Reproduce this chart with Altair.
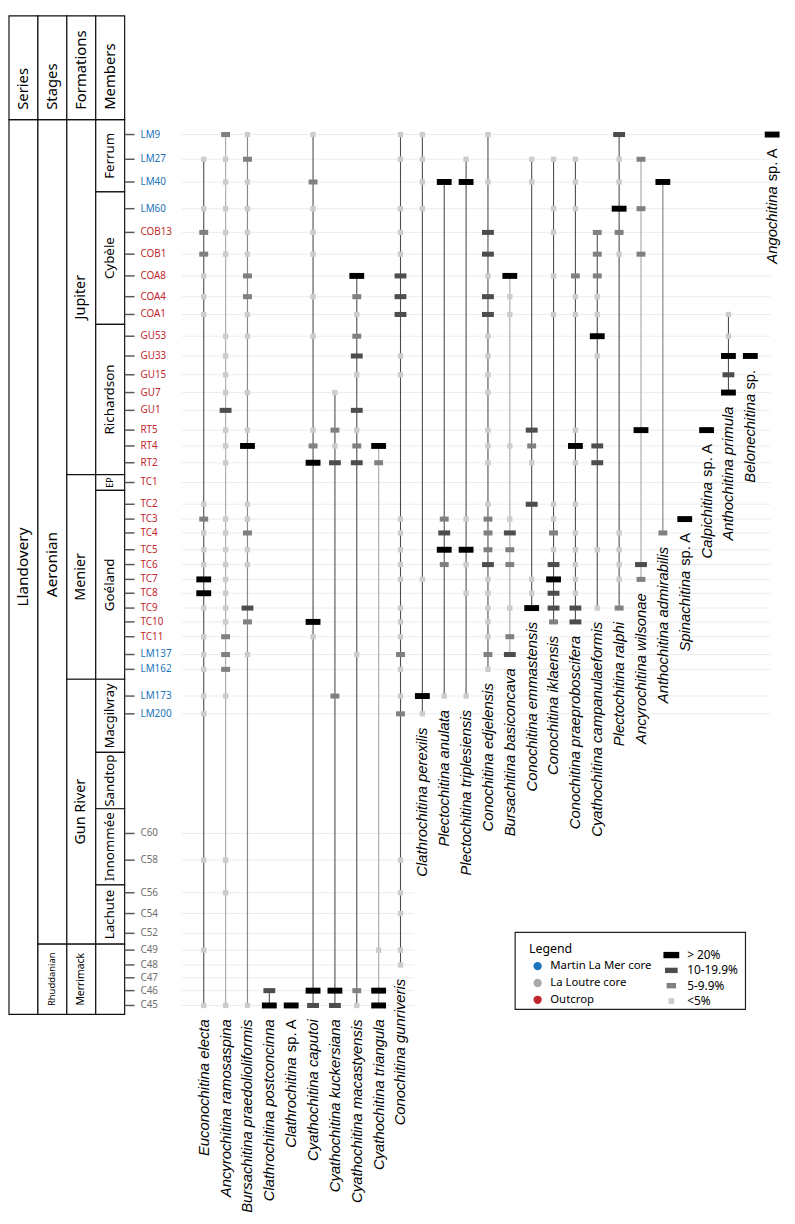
import altair as alt
import pandas as pd

# ---------------- samples (relative stratigraphic level, bottom = 0) ----------------
samples = ["LM9", "LM27", "LM40", "LM60", "COB13", "COB1", "COA8", "COA4", "COA1",
           "GU53", "GU33", "GU15", "GU7", "GU1", "RT5", "RT4", "RT2", "TC1",
           "TC2", "TC3", "TC4", "TC5", "TC6", "TC7", "TC8", "TC9", "TC10", "TC11",
           "LM137", "LM162", "LM173", "LM200",
           "C60", "C58", "C56", "C54", "C52", "C49", "C48", "C47", "C46", "C45"]
sample_level = [890, 865, 842, 815, 791, 769, 747, 726, 708,
                686, 666, 647, 629, 611, 591, 575, 558, 538,
                516, 501, 487, 470, 455, 440, 426, 411, 397, 382,
                364, 349, 322, 304,
                183, 156, 123, 102, 82, 65, 50, 37, 24, 9]
sample_source = (["Martin La Mer core"] * 4 + ["Outcrop"] * 24 +
                 ["Martin La Mer core"] * 4 + ["La Loutre core"] * 10)
sources = ["Martin La Mer core", "La Loutre core", "Outcrop"]

# ---------------- species and occurrences ----------------
species = ["Euconochitina electa", "Ancyrochitina ramosaspina", "Bursachitina praedolioliformis",
           "Clathrochitina postconcinna", "Clathrochitina sp. A", "Cyathochitina caputoi",
           "Cyathochitina kuckersiana", "Cyathochitina macastyensis", "Cyathochitina triangula",
           "Conochitina gunriveris", "Clathrochitina perexilis", "Plectochitina anulata",
           "Plectochitina triplesiensis", "Conochitina edjelensis", "Bursachitina basiconcava",
           "Conochitina emmastensis", "Conochitina iklaensis", "Conochitina praeproboscifera",
           "Cyathochitina campanulaeformis", "Plectochitina ralphi", "Ancyrochitina wilsonae",
           "Anthochitina admirabilis", "Spinachitina sp. A", "Calpichitina sp. A",
           "Anthochitina primula", "Belonechitina sp.", "Angochitina sp. A"]
species_tone = ["dark", "light", "mid", "dark", "dark", "dark", "dark", "dark", "light",
                "dark", "dark", "dark", "dark", "dark", "light", "dark", "dark", "dark",
                "dark", "dark", "light", "mid", "dark", "dark", "dark", "dark", "dark"]
# B: > 20%, D: 10-19.9%, M: 5-9.9%, L: <5%
species_records = [
    "LM27 L,LM60 L,COB13 M,COB1 M,COA8 L,COA4 L,COA1 L,TC2 L,TC3 M,TC4 L,TC5 L,TC6 L,TC7 B,TC8 B,TC9 L,TC11 L,LM137 L,LM162 L,LM173 L,LM200 L,C58 L,C49 L,C45 L",
    "LM9 M,LM27 L,LM40 L,LM60 L,COB13 L,COB1 L,GU53 L,GU33 L,GU15 L,GU7 L,GU1 D,RT5 L,RT4 L,RT2 L,TC3 L,TC4 L,TC5 L,TC6 L,TC7 L,TC8 L,TC9 L,TC10 L,TC11 M,LM137 M,LM162 M,LM173 L,C58 L,C56 L,C45 L",
    "LM9 L,LM27 M,LM40 L,LM60 L,COB13 L,COB1 L,COA8 M,COA4 M,COA1 L,GU53 L,GU7 L,RT5 L,RT4 B,TC2 L,TC3 L,TC4 M,TC5 L,TC6 L,TC9 D,TC10 M,LM137 L,C45 L",
    "C46 D,C45 B",
    "C45 B",
    "LM9 L,LM40 M,LM60 L,COB13 L,COB1 L,COA4 L,GU53 L,RT5 L,RT4 M,RT2 B,TC10 B,TC11 L,C46 B,C45 D",
    "GU7 L,RT5 M,RT4 L,RT2 D,LM173 M,C46 B,C45 D",
    "COA8 B,COA4 M,COA1 L,GU53 M,GU33 D,GU15 L,GU1 D,RT5 L,RT4 M,RT2 D,LM137 L,C46 M,C45 L",
    "RT4 B,RT2 M,C49 L,C46 B,C45 B",
    "LM9 L,LM27 L,LM60 L,COB13 L,COB1 L,COA8 D,COA4 D,COA1 D,GU33 L,GU15 L,TC3 L,TC4 L,TC5 L,TC6 L,TC7 L,TC9 L,TC10 L,TC11 L,LM137 M,LM162 L,LM173 L,LM200 M,C58 L,C56 L,C54 L,C49 L,C48 L",
    "LM9 L,LM27 L,LM40 L,LM60 L,TC7 L,LM173 B,LM200 L",
    "LM40 B,TC3 M,TC4 D,TC5 B,TC6 M,LM173 L",
    "LM27 L,LM40 B,TC3 L,TC5 B,TC6 L,TC8 L,LM173 L",
    "LM9 L,LM40 L,COB13 D,COB1 D,COA8 L,COA4 D,COA1 D,GU53 L,GU33 L,GU15 L,GU7 L,RT5 L,RT4 L,RT2 L,TC2 L,TC3 M,TC4 M,TC5 M,TC6 D,TC7 L,TC8 L,TC9 L,TC10 L,TC11 L,LM137 M,LM162 L",
    "COA8 B,COA4 L,COA1 L,RT4 L,TC3 L,TC4 D,TC5 M,TC6 M,TC9 L,TC11 M,LM137 D",
    "LM27 L,LM40 L,RT5 D,RT4 M,RT2 L,TC2 D,TC7 L,TC8 L,TC9 B",
    "LM27 L,LM60 L,COB13 L,COA8 L,COA1 L,TC2 L,TC3 L,TC4 M,TC5 L,TC6 D,TC7 B,TC8 D,TC9 D,TC10 M",
    "LM27 L,LM40 L,LM60 L,COA8 M,COA4 L,COA1 L,RT5 L,RT4 B,RT2 L,TC2 L,TC4 L,TC5 L,TC6 L,TC7 L,TC8 L,TC9 D,TC10 D",
    "COB13 M,COB1 M,COA8 M,COA4 L,COA1 L,GU53 B,GU33 L,RT4 D,RT2 D,TC5 L,TC9 L",
    "LM9 D,LM27 L,LM40 L,LM60 B,COB13 M,COB1 L,TC4 L,TC5 L,TC6 L,TC7 L,TC9 M",
    "LM27 M,LM60 M,COB1 M,RT5 B,TC6 D,TC7 M",
    "LM40 B,TC4 M",
    "TC3 B",
    "RT5 B",
    "COA1 L,GU53 L,GU33 B,GU15 D,GU7 B",
    "GU33 B",
    "LM9 B",
]
abund_codes = ["B", "D", "M", "L"]
abund_labels = ["> 20%", "10-19.9%", "5-9.9%", "<5%"]

# ---------------- stratigraphic framework ----------------
strat_columns = ["Series", "Stages", "Formations", "Members"]
unit_column = ["Series", "Stages", "Stages", "Formations", "Formations", "Formations", "Formations",
               "Members", "Members", "Members", "Members", "Members", "Members", "Members",
               "Members", "Members", "Members"]
unit_name = ["Llandovery", "Aeronian", "Rhuddanian", "Jupiter", "Menier", "Gun River", "Merrimack",
             "Ferrum", "Cybèle", "Richardson", "EP", "Goéland", "Macgilvray", "Sandtop",
             "Innommée", "Lachute", ""]
unit_top = [905, 905, 71, 905, 546, 339, 71, 905, 832, 698, 546, 530, 339, 265, 208, 131, 71]
unit_bottom = [0, 71, 0, 546, 339, 71, 0, 832, 698, 546, 530, 339, 265, 208, 131, 71, 0]
header_top = 1010
header_bottom = 905

# ---------------- tables ----------------
level_of = dict(zip(samples, sample_level))
code_to_label = dict(zip(abund_codes, abund_labels))
occ_rows = []
for sp, rec in zip(species, species_records):
    for item in rec.split(","):
        s, c = item.strip().split()
        occ_rows.append({"species": sp, "sample": s, "level": level_of[s],
                         "abundance": code_to_label[c]})
occ = pd.DataFrame(occ_rows)

rng = occ.groupby("species")["level"].agg(["max", "min"]).reset_index()
rng.columns = ["species", "top", "bottom"]
rng["tone"] = rng["species"].map(dict(zip(species, species_tone)))

# split labels: italic genus/species part, upright "sp. A" part
ARIAL_W = {" ": 0.278, "s": 0.5, "p": 0.556, ".": 0.278, "A": 0.667}
LABEL_FS = 15


def split_name(n):
    if " sp." in n:
        i = n.index(" sp.")
        return n[:i], n[i + 1:]
    return n, ""


rng["ital"] = [split_name(n)[0] for n in rng["species"]]
rng["upright"] = [split_name(n)[1] for n in rng["species"]]
rng["shift"] = [(sum(ARIAL_W.get(ch, 0.5) for ch in u) + ARIAL_W[" "]) * LABEL_FS if u else 0
                for u in rng["upright"]]
rng["ital_y"] = rng["bottom"] - rng["shift"]

samp = pd.DataFrame({"sample": samples, "level": sample_level, "source": sample_source})

units = pd.DataFrame({"col": unit_column, "name": unit_name, "top": unit_top, "bottom": unit_bottom})
font_size_of = {"Llandovery": 15.5, "Aeronian": 15.5, "Rhuddanian": 9.5, "Jupiter": 14.5,
                "Menier": 14.5, "Gun River": 14.5, "Merrimack": 10.5, "EP": 9,
                "Macgilvray": 13}
units["fs"] = [font_size_of.get(n, 13.5) for n in unit_name]
units["mid"] = (units["top"] + units["bottom"]) / 2
units.loc[units["name"] == "Aeronian", "mid"] = 455
header = pd.DataFrame({"col": strat_columns, "top": [header_top] * 4, "bottom": [header_bottom] * 4})

# ---------------- scales ----------------
Y = alt.Scale(domain=[0, 1010], nice=False, zero=False)
col_band = alt.Scale(type="band", domain=strat_columns, range=[0, 117], paddingInner=0, paddingOuter=0)
col_point = alt.Scale(type="point", domain=strat_columns, range=[0, 117], padding=0.5)
sp_scale = alt.Scale(type="point", domain=species, range=[197, 772], padding=0)

FONT = "Noto Sans"

strat_rects = alt.Chart(units).mark_rect(fill="white", stroke="#111", strokeWidth=1.2).encode(
    x=alt.X("col:N", scale=col_band, axis=None),
    y=alt.Y("top:Q", scale=Y, axis=None), y2="bottom:Q")
header_rects = alt.Chart(header).mark_rect(fill="white", stroke="#111", strokeWidth=1.2).encode(
    x=alt.X("col:N", scale=col_band, axis=None),
    y=alt.Y("top:Q", scale=Y, axis=None), y2="bottom:Q")
header_text = alt.Chart(header).mark_text(angle=270, align="left", baseline="middle", font=FONT,
                                          fontSize=15, color="black", yOffset=-10).encode(
    x=alt.X("col:N", scale=col_point, axis=None),
    y=alt.Y("bottom:Q", scale=Y, axis=None), text="col:N")
unit_text = alt.Chart(units).transform_filter("datum.name != ''").mark_text(
    angle=270, align="center", baseline="middle", font=FONT, color="black").encode(
    x=alt.X("col:N", scale=col_point, axis=None),
    y=alt.Y("mid:Q", scale=Y, axis=None), text="name:N",
    size=alt.Size("fs:Q", scale=None, legend=None))

grid_upper = alt.Chart(samp).transform_filter("datum.source != 'La Loutre core'").mark_rule(
    color="#ececec", strokeWidth=1).encode(
    x=alt.value(175), x2=alt.value(770), y=alt.Y("level:Q", scale=Y, axis=None))
grid_lower = alt.Chart(samp).transform_filter("datum.source == 'La Loutre core'").mark_rule(
    color="#ececec", strokeWidth=1).encode(
    x=alt.value(175), x2=alt.value(410), y=alt.Y("level:Q", scale=Y, axis=None))
ticks = alt.Chart(samp).mark_rule(color="#58595b", strokeWidth=1.5).encode(
    x=alt.value(117), x2=alt.value(127), y=alt.Y("level:Q", scale=Y, axis=None))
sample_text = alt.Chart(samp).mark_text(align="left", baseline="middle", font=FONT, fontSize=10).encode(
    x=alt.value(133), y=alt.Y("level:Q", scale=Y, axis=None), text="sample:N",
    color=alt.Color("source:N", scale=alt.Scale(domain=sources, range=["#1b75bc", "#6d6e71", "#c1272d"]),
                    legend=None))

range_rules = alt.Chart(rng).mark_rule().encode(
    x=alt.X("species:N", scale=sp_scale, axis=None),
    y=alt.Y("top:Q", scale=Y, axis=None), y2="bottom:Q",
    color=alt.Color("tone:N", scale=alt.Scale(domain=["dark", "mid", "light"],
                                              range=["#4d4d4d", "#8a8a8a", "#b3b3b3"]), legend=None),
    strokeWidth=alt.StrokeWidth("tone:N", scale=alt.Scale(domain=["dark", "mid", "light"],
                                                          range=[1.1, 1.3, 2.2]), legend=None))

shape_paths = ["M-1,-0.4H1V0.4H-1Z", "M-0.8,-0.34H0.8V0.34H-0.8Z",
               "M-0.6,-0.34H0.6V0.34H-0.6Z", "M-0.36,-0.36H0.36V0.36H-0.36Z"]
abund_colors = ["#000000", "#4d4d4d", "#808080", "#cccccc"]
abund_legend = alt.Legend(title=None, orient="none", legendX=662, legendY=942, symbolSize=256,
                          labelFont=FONT, labelFontSize=12, labelColor="black", labelOffset=8,
                          rowPadding=1.5, symbolStrokeWidth=0, padding=0)
occ_points = alt.Chart(occ).mark_point(filled=True, opacity=1, size=225, strokeWidth=0).encode(
    x=alt.X("species:N", scale=sp_scale, axis=None),
    y=alt.Y("level:Q", scale=Y, axis=None),
    color=alt.Color("abundance:N", scale=alt.Scale(domain=abund_labels, range=abund_colors),
                    legend=abund_legend),
    shape=alt.Shape("abundance:N", scale=alt.Scale(domain=abund_labels, range=shape_paths),
                    legend=abund_legend))

species_text = alt.Chart(rng).mark_text(angle=270, align="right", baseline="middle",
                                        font="Liberation Sans", fontStyle="italic", fontSize=LABEL_FS,
                                        color="black", yOffset=14).encode(
    x=alt.X("species:N", scale=sp_scale, axis=None),
    y=alt.Y("ital_y:Q", scale=Y, axis=None), text="ital:N")
species_suffix = alt.Chart(rng).transform_filter("datum.upright != ''").mark_text(
    angle=270, align="right", baseline="middle", font="Liberation Sans", fontSize=LABEL_FS,
    color="black", yOffset=14).encode(
    x=alt.X("species:N", scale=sp_scale, axis=None),
    y=alt.Y("bottom:Q", scale=Y, axis=None), text="upright:N")

legend_box = alt.Chart(pd.DataFrame({"k": [0]})).mark_rect(fill="white", stroke="#231f20",
                                                          strokeWidth=1.2).encode(
    x=alt.value(512), x2=alt.value(745), y=alt.value(927), y2=alt.value(1005))
legend_src = alt.Chart(pd.DataFrame({"source": sources})).transform_filter(
    "datum.source == 'none'").mark_point(filled=True, shape="circle", size=70, opacity=1).encode(
    x=alt.value(0), y=alt.value(0),
    color=alt.Color("source:N", scale=alt.Scale(domain=sources, range=["#1b75bc", "#a7a9ac", "#c1272d"]),
                    legend=alt.Legend(title="Legend", orient="none", legendX=526, legendY=938,
                                      titleFont=FONT, titleFontSize=12.5, titleFontWeight="normal",
                                      titleColor="black", labelFont=FONT, labelFontSize=11.5,
                                      labelColor="black", symbolType="circle", symbolSize=70,
                                      symbolOffset=3, labelOffset=7, rowPadding=4, titlePadding=5,
                                      symbolStrokeWidth=0, symbolOpacity=1, padding=0)))

chart = alt.layer(
    strat_rects, header_rects, header_text, unit_text,
    grid_upper, grid_lower, ticks, sample_text,
    range_rules, occ_points, species_text, species_suffix, legend_box, legend_src
).properties(width=787, height=1010, padding=0).resolve_scale(
    x="independent", color="independent", shape="independent",
    strokeWidth="independent", size="independent"
).configure_view(stroke=None)

chart.save("out.html", embed_options={"renderer": "svg", "actions": False})
